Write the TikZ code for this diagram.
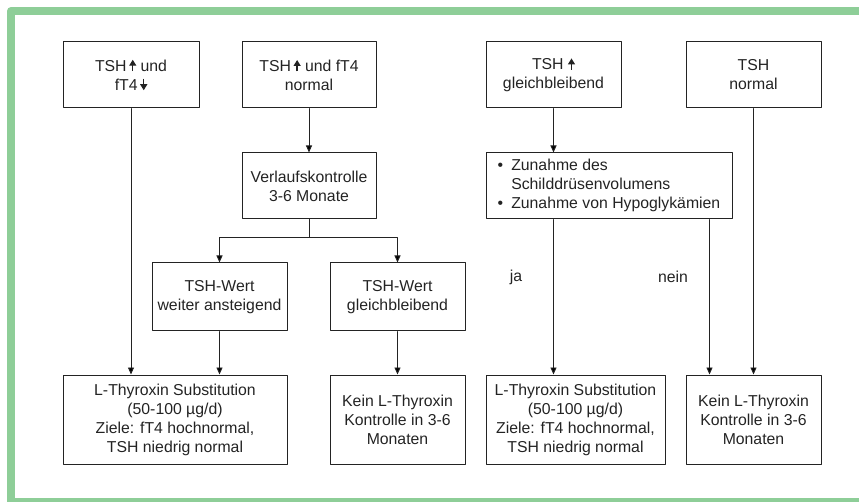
\documentclass[tikz,border=0pt]{standalone}
\usepackage{fontspec}
\setmainfont{Liberation Sans}
\usetikzlibrary{arrows.meta}

\definecolor{rahmengruen}{RGB}{142,206,152}
\definecolor{strich}{RGB}{35,35,35}

% kleine Pfeile im Text
\newcommand{\pfeilhoch}{\tikz[baseline=0pt]\draw[line width=1.3pt,-{Triangle[length=6pt,width=7pt]}] (0pt,0pt) -- (0pt,11.5pt);}
\newcommand{\pfeilrunter}{\tikz[baseline=0pt]\draw[line width=1.3pt,-{Triangle[length=6pt,width=7pt]}] (0pt,11.5pt) -- (0pt,0pt);}

\begin{document}
\begin{tikzpicture}[
						x=1pt, y=-1pt,
						every node/.style={font=\fontsize{15.8}{19}\selectfont, text=strich},
						kasten/.style={draw=strich, line width=1pt, align=center, minimum width=135pt, minimum height=66pt, inner sep=2pt},
						pfeil/.style={draw=strich, line width=0.9pt, -{Triangle[length=7pt,width=6pt]}},
						line cap=round,
						line join=round
						]
						
						\useasboundingbox (0,0) rectangle (859,502);
						
						% gruener Rahmen
						\draw[rahmengruen, line width=8pt, line cap=butt] (880,11) -- (11,11) -- (11,502) -- (880,502);
						
						% obere Reihe
						\node[kasten, minimum width=136pt] (fallA) at (131,75) {TSH\,\pfeilhoch\ und\\ fT4\,\pfeilrunter};
						\node[kasten, minimum width=134pt] (fallB) at (309,75) {TSH\,\pfeilhoch\ und fT4\\ normal};
						\node[kasten] (fallC) at (553.5,75) {TSH \pfeilhoch\\ gleichbleibend};
						\node[kasten] (fallD) at (753.5,75) {TSH\\ normal};
						
						% zweite Reihe
						\node[kasten, minimum width=134pt] (verlauf) at (309,186) {Verlaufskontrolle\\ 3-6 Monate};
						\node[kasten, minimum width=246pt, align=left, inner xsep=4pt] (zunahme) at (609,186)
						{\begin{tabular}{@{}l@{\hspace{8pt}}l@{}}
								\textbullet & Zunahme des\\
								& Schilddrüsenvolumens\\
								\textbullet & Zunahme von Hypoglykämien
						\end{tabular}};
						
						% dritte Reihe
						\node[kasten, minimum height=68pt] (weiter) at (219.5,297) {TSH-Wert\\ weiter ansteigend};
						\node[kasten, minimum height=68pt] (gleich) at (397.5,297) {TSH-Wert\\ gleichbleibend};
						\node (ja) at (516,277) {ja};
						\node (nein) at (673,277) {nein};
						
						% untere Reihe
						\node[kasten, minimum width=224pt, minimum height=89pt] (substA) at (175,419.5)
						{L-Thyroxin Substitution\\ (50-100 µg/d)\\ Ziele: fT4 hochnormal,\\ TSH niedrig normal};
						\node[kasten, minimum height=89pt] (keinA) at (397.5,419.5) {Kein L-Thyroxin\\ Kontrolle in 3-6\\ Monaten};
						\node[kasten, minimum width=179pt, minimum height=89pt] (substB) at (575.5,419.5)
						{L-Thyroxin Substitution\\ (50-100 µg/d)\\ Ziele: fT4 hochnormal,\\ TSH niedrig normal};
						\node[kasten, minimum height=89pt] (keinB) at (753.5,419.5) {Kein L-Thyroxin\\ Kontrolle in 3-6\\ Monaten};
						
						% Verbindungen links
						\draw[pfeil] (fallA.south) -- (fallA.south |- substA.north);
						\draw[pfeil] (fallB.south) -- (verlauf.north);
						\draw[pfeil] (verlauf.south) -- ++(0,18) -| (weiter.north);
						\draw[pfeil] (verlauf.south) -- ++(0,18) -| (gleich.north);
						\draw[pfeil] (weiter.south) -- (weiter.south |- substA.north);
						\draw[pfeil] (gleich.south) -- (keinA.north);
						
						% Verbindungen rechts
						\draw[pfeil] (fallC.south) -- (fallC.south |- zunahme.north);
						\draw[pfeil] (fallC.south |- zunahme.south) -- (fallC.south |- substB.north);
						\draw[pfeil] ([xshift=-23pt]zunahme.south east) -- ([xshift=-23pt]zunahme.south east |- keinB.north);
						\draw[pfeil] (fallD.south) -- (keinB.north);
						
					\end{tikzpicture}
\end{document}
